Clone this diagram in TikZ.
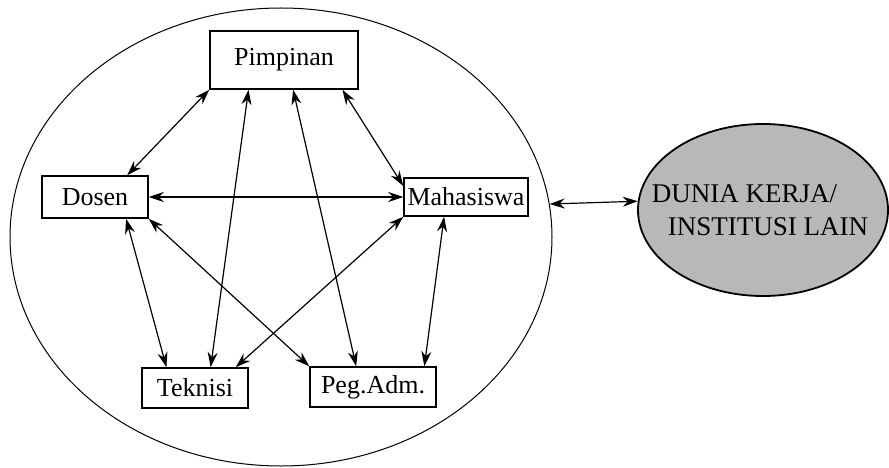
\documentclass[tikz,border=0pt]{standalone}
\usepackage{fontspec}
\setmainfont{Liberation Serif}
\usetikzlibrary{shapes.geometric,arrows.meta}

\begin{document}
\begin{tikzpicture}[<->,>={Stealth[length=15pt,width=10pt]},x=1pt,y=-1pt,line width=1.2pt]
	\tikzstyle{unit} = [draw,rectangle,line width=1.5pt,inner sep=0pt,font=\fontsize{26}{30}\selectfont]
	\tikzstyle{lingkup} = [draw,ellipse,inner sep=0pt]

	\useasboundingbox (0,0) rectangle (889,468);

	\node[lingkup,line width=1pt,minimum width=542pt,minimum height=458pt] (kampus) at (281,237) {};
	\node[lingkup,fill=black!28,line width=1.8pt,minimum width=250pt,minimum height=172pt] (dunia) at (763,210) {};
	\node[align=left,inner sep=0pt,font=\fontsize{27}{33}\selectfont] (dunia-teks) at (760,210) {DUNIA KERJA/\\\hspace*{16pt}INSTITUSI LAIN};

	\node[unit,minimum width=148pt,minimum height=58pt] (pim) at (284,60) {Pimpinan};
	\node[unit,minimum width=106pt,minimum height=42pt] (dos) at (95,197) {Dosen};
	\node[unit,minimum width=124pt,minimum height=38pt] (mah) at (466,197) {Mahasiswa};
	\node[unit,minimum width=106pt,minimum height=40pt] (tek) at (195,388) {Teknisi};
	\node[unit,minimum width=126pt,minimum height=40pt] (peg) at (373,387) {Peg.Adm.};

	\path (pim.south west) edge (dos.34);
	\path (pim.220) edge (tek.53);
	\path (pim.-73) edge (peg.129);
	\path (pim.-27) edge (mah.170);
	\path (dos.east) edge (mah.west);
	\path (dos.-35) edge (tek.144);
	\path (dos.south east) edge (peg.north west);
	\path (mah.south west) edge (tek.27);
	\path (mah.222) edge (peg.22);
	\path (kampus.7) edge (dunia.176);
\end{tikzpicture}
\end{document}
